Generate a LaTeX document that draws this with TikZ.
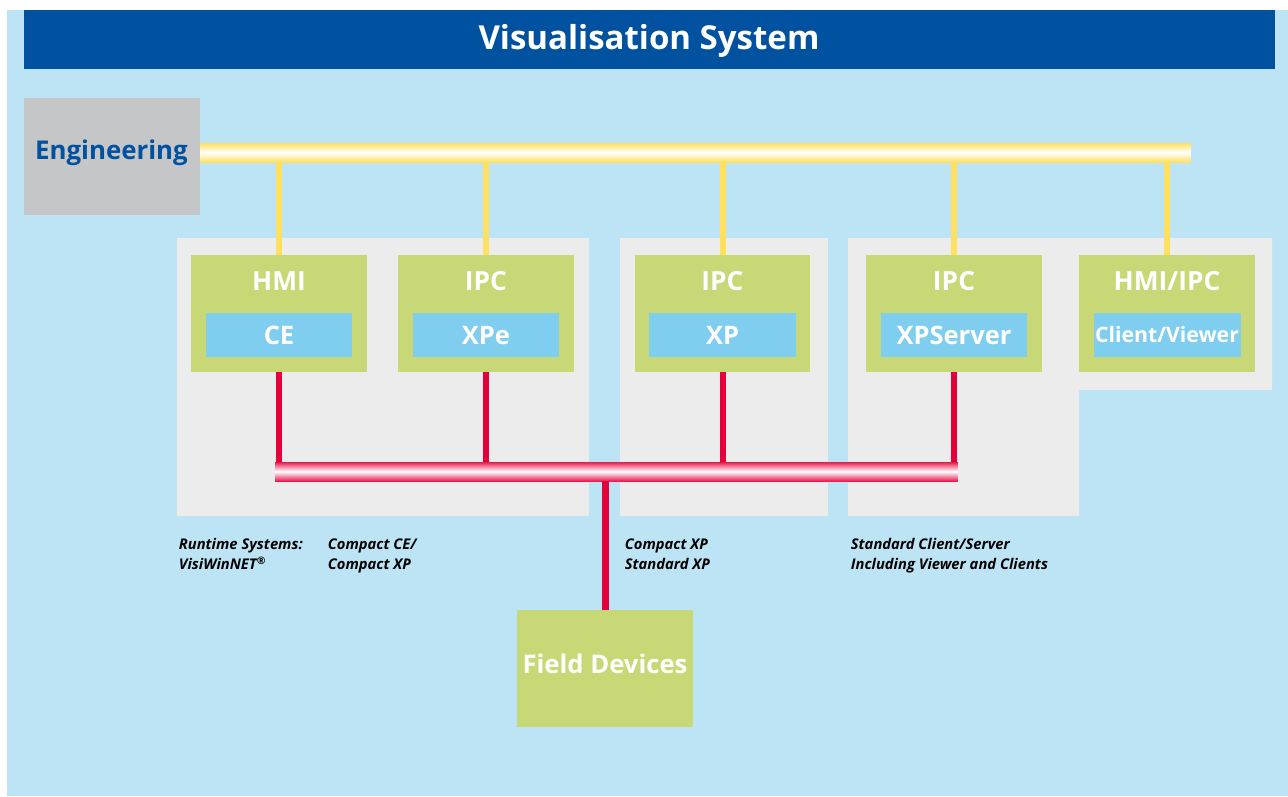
\documentclass[tikz,border=0pt]{standalone}
\usepackage{fontspec}
\setmainfont{Open Sans}
\usetikzlibrary{positioning}
\definecolor{titleblue}{RGB}{0,82,160}
\definecolor{skyback}{RGB}{188,228,245}
\definecolor{enggray}{RGB}{196,198,200}
\definecolor{panelgray}{RGB}{236,236,236}
\definecolor{devgreen}{RGB}{200,216,118}
\definecolor{osblue}{RGB}{128,206,239}
\definecolor{busyellow}{RGB}{255,224,96}
\definecolor{busred}{RGB}{228,0,58}

\begin{document}
\begin{tikzpicture}[x=0.02cm, y=-0.02cm, font=\bfseries,
  block/.style={inner sep=0pt, outer sep=0pt, minimum width=3.52cm, minimum height=2.34cm},
  device/.style={block, fill=devgreen},
  osbox/.style={fill=osblue, inner sep=0pt, outer sep=0pt, minimum width=2.94cm, minimum height=0.88cm,
    text=white, text height=10.35pt, text depth=0pt, font=\bfseries\fontsize{14.5}{16}\selectfont},
  head/.style={text=white, inner sep=0pt, anchor=base,
    font=\bfseries\fontsize{15}{17}\selectfont},
  yline/.style={line width=0.12cm, draw=busyellow},
  rline/.style={line width=0.12cm, draw=busred},
  note/.style={anchor=base west, align=left, inner sep=0pt,
    font=\bfseries\itshape\fontsize{8.4}{11.3}\selectfont}]
\useasboundingbox (0,0) rectangle (1288,796);
\fill[white] (0,0) rectangle (1288,796);
\fill[skyback] (7,10) rectangle (1288,796);
% --- title bar ---
\node[fill=titleblue, inner sep=0pt, minimum width=25.02cm, minimum height=1.18cm] (titlebar) at (649.5,39.5) {};
\node[head, font=\bfseries\fontsize{18.8}{21}\selectfont] (title) at (649,49.3) {Visualisation System};
% --- grey group panels ---
\fill[panelgray] (177,238) rectangle (589,516);
\fill[panelgray] (620,238) rectangle (828,516);
\fill[panelgray] (848,238) -- (1272,238) -- (1272,390) -- (1079,390) -- (1079,516) -- (848,516) -- cycle;
% --- engineering and its bus ---
\node[block, fill=enggray] (eng) at (112,156.5) {};
\node[head, text=titleblue, font=\bfseries\fontsize{14.7}{17}\selectfont] (engtext) at (111.5,159.3) {Engineering};
\node[inner sep=0pt, outer sep=0pt, minimum width=19.82cm, minimum height=0.38cm,
  top color=busyellow, bottom color=busyellow, middle color=white] (engbus) at (695.5,152.5) {};
% --- devices ---
\node[device] (hmi) at (279,313.5) {};
\node[device] (ipcxpe) at (486,313.5) {};
\node[device] (ipcxp) at (722.5,313.5) {};
\node[device] (ipcsrv) at (954,313.5) {};
\node[device] (hmiipc) at (1167,313.5) {};
\node[head] (hmi-t) at (279,290.7) {HMI};
\node[head] (ipcxpe-t) at (486,290.7) {IPC};
\node[head] (ipcxp-t) at (722.5,290.7) {IPC};
\node[head] (ipcsrv-t) at (954,290.7) {IPC};
\node[head] (hmiipc-t) at (1167,290.7) {HMI/IPC};
\node[osbox] (ce) at (279,335) {CE};
\node[osbox] (xpe) at (486,335) {XPe};
\node[osbox] (xp) at (722.5,335) {XP};
\node[osbox] (xpsrv) at (954,335) {XPServer};
\node[osbox, text height=8.64pt, font=\bfseries\fontsize{12.1}{14}\selectfont] (viewer) at (1167,335) {Client/Viewer};
% yellow drops from engineering bus
\foreach \d in {hmi,ipcxpe,ipcxp,ipcsrv,hmiipc}
  \draw[yline] (\d.north |- engbus.south) -- (\d.north);
% --- field bus ---
\node[inner sep=0pt, outer sep=0pt, minimum width=13.66cm, minimum height=0.38cm,
  top color=busred!90, bottom color=busred!90, middle color=white] (fbus) at (616.5,471.5) {};
\foreach \d in {hmi,ipcxpe,ipcxp,ipcsrv}
  \draw[rline] (\d.south) -- (\d.south |- fbus.north);
\node[device] (field) at (605,668.5) {};
\node[head, font=\bfseries\fontsize{14.6}{17}\selectfont] (field-t) at (605,673.3) {Field Devices};
\draw[rline, line width=0.14cm] (field.north) -- (field.north |- fbus.south);
% --- notes under the panels ---
\node[note] (rt) at (178.5,569.5) {Runtime Systems:\\VisiWinNET\textsuperscript{\textregistered}};
\node[note] (cce) at (327.5,569.5) {Compact CE/\\Compact XP};
\node[note] (cxp) at (624.5,569.5) {Compact XP\\Standard XP};
\node[note] (scs) at (850.5,569.5) {Standard Client/Server\\Including Viewer and Clients};
\end{tikzpicture}
\end{document}
